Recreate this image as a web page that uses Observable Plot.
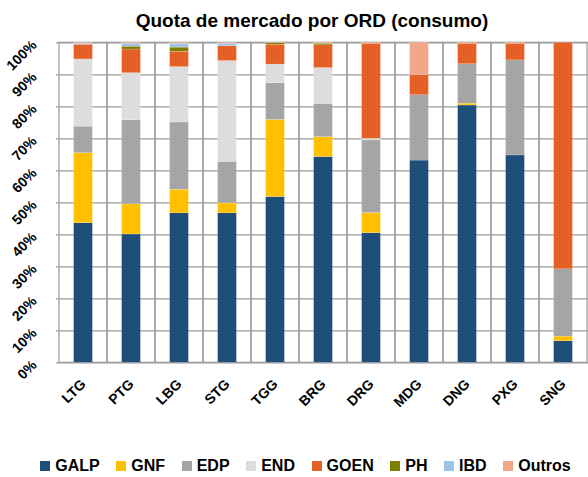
<!DOCTYPE html>
<html>
<head>
<meta charset="utf-8">
<script src="https://cdn.jsdelivr.net/npm/d3@7"></script>
<script src="https://cdn.jsdelivr.net/npm/@observablehq/plot@0.6"></script>
<style>
  body { margin: 0; background: #fff; width: 588px; height: 477px; overflow: hidden; font-family: "Liberation Sans", Arial, sans-serif; }
  #title { height: 24px; padding-top: 8px; line-height: 26px; font-size: 19px; font-weight: bold; text-align: center; padding-left: 36px; color: #000; }
  #legend { display: flex; justify-content: center; align-items: center; margin-top: 46px; padding-left: 23px; height: 20px; font-size: 16px; font-weight: bold; color: #000; }
  .item { display: flex; align-items: center; margin: 0 8.3px; }
  .sw { width: 10px; height: 10px; margin-right: 5px; }
</style>
</head>
<body>
<div id="title">Quota de mercado por ORD (consumo)</div>
<div id="chart"></div>
<div id="legend"></div>
<script>
const categories = ["LTG","PTG","LBG","STG","TGG","BRG","DRG","MDG","DNG","PXG","SNG"];
const series = ["GALP","GNF","EDP","END","GOEN","PH","IBD","Outros"];
const colors = ["#1F4E79","#FFC000","#A5A5A5","#DDDDDD","#E46025","#7F7F00","#9DC3E6","#F2A78A"];
const GALP   = [43.6,40.1,46.7,46.7,51.8,64.3,40.5,63.2,80.4,64.8,6.7];
const GNF    = [21.9,9.4,7.4,3.1,24.1,6.2,6.3,0,0.6,0,1.5];
const EDP    = [8.3,26.3,21.0,13.0,11.5,10.4,22.7,20.4,12.3,29.7,21.0];
const END    = [21.0,14.7,17.3,31.5,5.8,11.2,0.5,0,0,0,0];
const GOEN   = [4.6,7.4,4.8,4.6,6.2,7.1,29.7,6.3,6.4,5.2,70.8];
const PH     = [0,0.9,1.3,0,0.5,0.5,0,0,0,0,0];
const IBD    = [0.3,0.9,1.2,0.8,0,0,0,0,0,0,0];
const Outros = [0.3,0.3,0.3,0.3,0.1,0.3,0.3,10.1,0.3,0.3,0];
const yTicks = [0,10,20,30,40,50,60,70,80,90,100];

const seriesValues = [GALP, GNF, EDP, END, GOEN, PH, IBD, Outros];
const rows = [];
series.forEach((s, si) => categories.forEach((c, ci) => rows.push({cat: c, series: s, value: seriesValues[si][ci]})));

const chart = Plot.plot({
  width: 588,
  height: 378,
  marginTop: 10.3,
  marginBottom: 47.7,
  marginLeft: 56,
  marginRight: -2,
  style: {fontFamily: "'Liberation Sans', Arial, sans-serif", fontSize: "14px", fontWeight: "bold", color: "#000", background: "#fff"},
  x: {domain: categories, padding: 0, label: null},
  y: {domain: [0, 100], label: null},
  color: {domain: series, range: colors},
  marks: [
    Plot.gridY(yTicks, {stroke: "#9a9a9a", strokeOpacity: 1, strokeWidth: 1.2}),
    Plot.barY(categories, {x: d => d, y: () => 100, fill: "none", stroke: "#9a9a9a", strokeWidth: 1.2}),
    Plot.barY(rows, {x: "cat", y: "value", fill: "series", insetLeft: 14.6, insetRight: 14.6, stroke: "#fff", strokeWidth: 0.3, strokeOpacity: 0.6}),
    Plot.axisX({tickSize: 0, tickPadding: 19, tickRotate: -45, fontSize: 14, fontWeight: "bold"}),
    Plot.axisY({ticks: yTicks, tickFormat: d => d + "%", tickSize: 0, tickPadding: 22, tickRotate: -45, fontSize: 14, fontWeight: "bold"})
  ]
});
document.getElementById("chart").appendChild(chart);

const legend = document.getElementById("legend");
series.forEach((s, i) => {
  const it = document.createElement("div");
  it.className = "item";
  const sw = document.createElement("div");
  sw.className = "sw";
  sw.style.background = colors[i];
  const t = document.createElement("span");
  t.textContent = s;
  it.appendChild(sw); it.appendChild(t);
  legend.appendChild(it);
});
</script>
</body>
</html>
